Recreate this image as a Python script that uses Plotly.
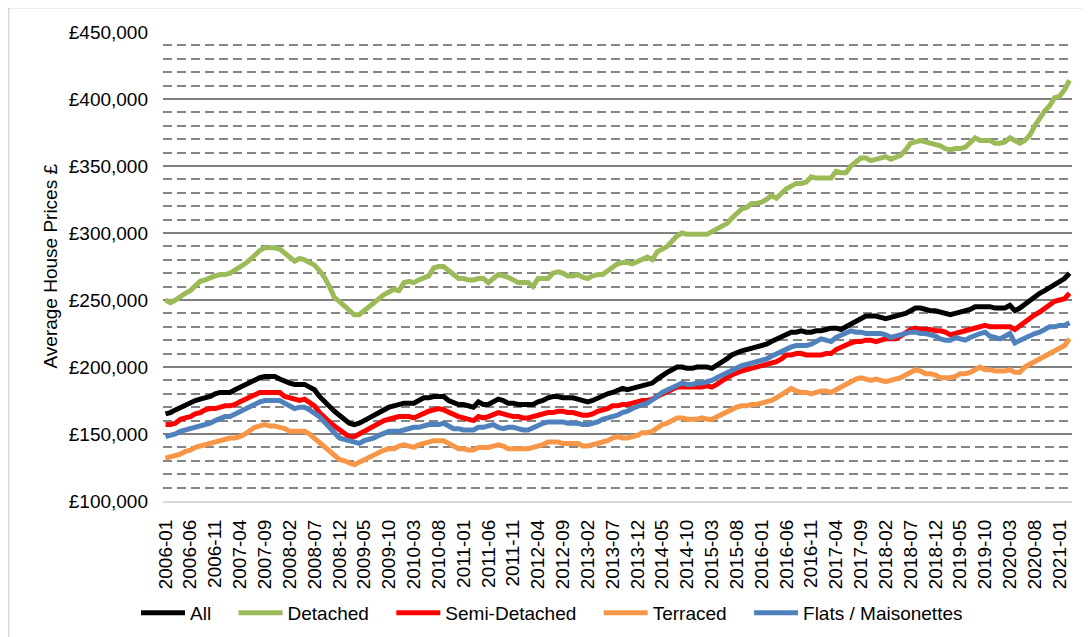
import plotly.graph_objects as go

# Monthly categories 2006-01 .. 2021-03
months = [f"{y}-{m:02d}" for y in range(2006, 2022) for m in range(1, 13)][:183]
tick_labels = months[::5]

# Values in £ thousands
all_k = [165,166,168,170,172,173,175,176,177,178,180,181,181,181,183,185,187,189,191,192,
         193,193,193,191,189,188,187,187,187,185,183,178,174,171,167,164,161,158,157,158,
         160,162,165,167,169,170,171,172,173,173,173,175,177,177,178,178,178,175,173,172,
         172,171,170,174,172,172,174,176,175,173,173,172,172,172,172,174,175,177,178,178,
         177,177,177,176,175,174,175,177,178,180,181,183,184,183,184,185,186,187,188,191,
         194,196,198,200,200,199,199,200,200,200,199,201,204,206,209,211,212,213,214,215,
         216,217,219,221,223,225,226,226,227,226,226,227,227,228,229,229,228,230,232,234,
         236,238,238,238,237,236,237,238,239,240,242,244,244,243,242,242,241,240,239,240,
         241,242,243,245,245,245,245,244,244,244,246,242,244,247,250,253,255,257,259,262,
         264,266,270]
detached_k = [250,248,250,253,255,257,261,264,265,267,268,269,269,270,272,274,277,280,284,287,
              289,289,289,288,285,282,279,281,280,278,276,272,267,260,252,249,246,242,239,239,
              242,245,249,252,254,256,258,257,263,264,263,265,267,268,274,275,275,272,268,266,
              266,265,265,266,266,263,266,269,268,267,265,263,263,263,260,266,266,266,270,271,
              270,268,268,269,267,266,268,269,269,272,275,277,278,278,277,279,281,282,280,286,
              288,290,294,298,300,299,299,299,299,299,301,303,305,307,311,315,318,319,322,322,
              323,325,328,326,330,333,335,337,337,338,342,341,341,341,341,346,345,345,350,353,
              356,356,354,355,356,357,355,357,358,362,367,368,369,368,367,366,365,363,362,363,
              363,364,368,371,369,369,369,367,367,368,371,369,367,369,373,380,386,391,395,401,
              402,407,414]
semi_k = [157,157,158,161,162,163,165,166,168,169,169,170,171,171,172,174,176,178,180,181,
          181,181,181,181,178,177,176,175,176,174,171,166,162,159,156,153,150,148,148,150,
          152,155,157,159,160,161,162,163,163,163,162,164,166,167,168,169,168,166,164,163,
          162,161,160,163,162,163,165,166,165,164,163,163,162,162,163,164,165,166,166,167,
          167,166,166,165,164,164,165,167,168,169,171,171,172,172,173,174,175,175,176,178,
          180,182,184,185,185,185,185,185,185,186,185,187,190,192,194,196,197,198,199,200,
          201,202,203,204,206,209,209,210,210,209,209,209,209,210,210,213,215,217,218,219,
          219,220,220,219,220,221,221,221,223,226,228,229,228,228,228,227,227,226,224,225,
          226,227,228,229,230,231,230,230,230,230,230,228,231,234,236,239,241,244,246,249,
          250,251,255]
terraced_k = [132,133,134,135,137,138,140,141,142,143,144,145,146,147,147,148,150,153,155,156,
              157,156,156,155,154,152,152,152,152,150,147,144,140,137,135,131,130,128,127,129,
              131,133,135,136,138,139,139,141,142,141,140,142,143,144,145,145,145,143,141,139,
              139,138,138,140,140,140,141,142,141,139,139,139,139,139,140,141,142,144,144,144,
              143,143,143,143,141,141,142,143,144,145,147,148,147,147,148,149,151,151,152,155,
              157,158,160,162,162,161,161,161,162,161,161,163,165,167,169,170,171,171,172,172,
              173,174,175,177,179,182,184,182,181,181,180,181,182,182,181,183,185,188,190,191,
              192,191,190,191,190,189,190,191,192,194,196,198,197,195,195,194,192,192,192,193,
              195,195,196,198,200,198,198,197,197,197,198,196,196,200,202,204,206,208,210,213,
              214,216,221]
flats_k = [148,149,150,152,153,154,155,156,157,158,160,162,163,163,165,166,169,171,172,174,
           175,175,175,175,173,171,169,170,170,168,166,163,159,155,150,147,146,145,144,143,
           145,146,147,149,151,152,152,152,153,154,155,155,156,157,157,157,158,156,154,154,
           153,153,153,155,155,156,157,155,154,155,155,154,153,153,155,157,158,159,159,159,
           159,158,158,158,157,157,158,159,161,162,163,164,166,167,169,171,172,173,175,178,
           181,183,185,187,188,187,187,188,188,189,190,192,194,196,197,199,201,202,203,204,
           205,206,208,210,212,214,215,216,216,216,217,219,221,220,219,222,224,226,227,226,
           226,225,225,225,225,224,222,223,224,225,226,226,225,225,224,223,221,220,220,222,
           221,220,222,224,225,226,223,222,221,223,225,218,220,222,223,225,226,228,230,230,
           231,231,233]

series = [
    ("All", all_k, "#000000"),
    ("Detached", detached_k, "#9bbb59"),
    ("Semi-Detached", semi_k, "#ff0000"),
    ("Terraced", terraced_k, "#f79646"),
    ("Flats / Maisonettes", flats_k, "#4f81bd"),
]

PAD = "\u00a0" * 3 + "\u200a"  # extra spacing between legend entries

fig = go.Figure()
for k, (name, vals, color) in enumerate(series):
    fig.add_trace(go.Scatter(
        x=months, y=[v * 1000 for v in vals],
        name=name + (PAD if k < len(series) - 1 else ""), mode="lines",
        line=dict(color=color, width=5),
    ))

# Page body has an 8px offset; sizes below are in screen pixels
OFF = 8
W, H = 1090 - OFF, 637 - OFF
PL, PR, PT, PB = 163, 1072, 32, 501  # plot area on screen
L, R, T, B = PL - OFF, 1090 - PR, PT - OFF, 637 - PB
pw, ph = PR - PL, PB - PT

def px_x(x):
    return (x - PL) / pw

def px_y(y):
    return (PB - y) / ph

FS = 19
fig.update_layout(
    width=W, height=H,
    margin=dict(l=L, r=R, t=T, b=B, autoexpand=False),
    paper_bgcolor="white", plot_bgcolor="white",
    font=dict(family="Liberation Sans, Arial", size=FS, color="#000000"),
    showlegend=True,
    legend=dict(orientation="h", xref="container", yref="container",
                x=(136 - OFF) / W, xanchor="left", y=1 - (613 - OFF) / H, yanchor="middle",
                font=dict(size=FS), itemwidth=44, tracegroupgap=0, traceorder="normal"),
    xaxis=dict(
        type="category", range=[-0.5, 182.5], automargin=False,
        tickmode="array", tickvals=tick_labels, ticktext=tick_labels,
        tickangle=-90, tickfont=dict(size=FS), ticklabelstandoff=9,
        showgrid=False, showline=True, linecolor="#d9d9d9", linewidth=2,
        ticks="", zeroline=False,
    ),
    yaxis=dict(
        range=[100000, 450000], dtick=50000, tickprefix="£", tickformat=",d",
        tickfont=dict(size=FS), automargin=False, ticklabelstandoff=14,
        showgrid=True, gridcolor="#808080", gridwidth=2,
        minor=dict(dtick=10000, showgrid=True, gridcolor="#858585", gridwidth=2,
                   griddash="9px,5px"),
        zeroline=False, showline=False, ticks="",
    ),
    annotations=[dict(text="Average House Prices £", textangle=-90,
                      xref="paper", yref="paper", x=px_x(50), y=0.5,
                      xanchor="center", yanchor="middle", showarrow=False,
                      font=dict(size=FS))],
    shapes=[
        dict(type="line", xref="paper", yref="paper",
             x0=px_x(8.75), x1=px_x(1090), y0=px_y(7.75), y1=px_y(7.75),
             line=dict(color="#d9d9d9", width=1.5), layer="below"),
        dict(type="line", xref="paper", yref="paper",
             x0=px_x(8.75), x1=px_x(8.75), y0=px_y(7.75), y1=px_y(637),
             line=dict(color="#d9d9d9", width=1.5), layer="below"),
    ],
)

fig.write_html("out.html")
